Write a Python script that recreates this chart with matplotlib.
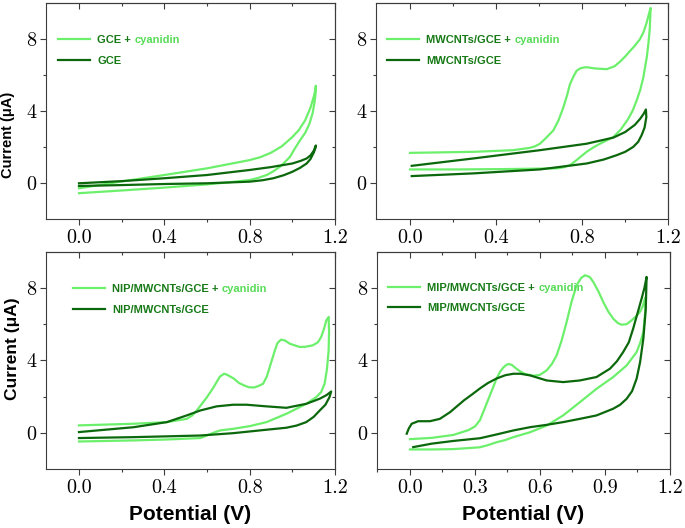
import matplotlib
matplotlib.use("Agg")
import matplotlib.pyplot as plt
from matplotlib.ticker import FixedLocator

# ---- data (potential in V, current in uA) ----
electrodes = ["GCE", "MWCNTs/GCE", "NIP/MWCNTs/GCE", "MIP/MWCNTs/GCE"]
analyte = "cyanidin"

gce_cy_E = [0.0, 0.2, 0.4, 0.6, 0.8, 0.85, 0.9, 0.95, 1.0, 1.03, 1.06, 1.085, 1.1, 1.108, 1.11,
            1.109, 1.104, 1.095, 1.08, 1.06, 1.036, 1.01, 0.989, 0.965, 0.942, 0.91, 0.88,
            0.84, 0.8, 0.7, 0.6, 0.4, 0.2, 0.0]
gce_cy_I = [-0.28, 0.1, 0.46, 0.83, 1.29, 1.45, 1.7, 2.05, 2.57, 2.95, 3.5, 4.2, 4.8, 5.2, 5.42,
            5.0, 4.5, 3.9, 3.3, 2.8, 2.39, 1.9, 1.47, 1.18, 0.92, 0.66, 0.46,
            0.3, 0.18, 0.05, -0.06, -0.24, -0.4, -0.55]
gce_E = [0.0, 0.2, 0.4, 0.6, 0.8, 0.9, 1.0, 1.04, 1.067, 1.085, 1.1, 1.11,
         1.108, 1.1, 1.085, 1.067, 1.035, 1.0, 0.96, 0.911, 0.86, 0.8, 0.6, 0.4, 0.2, 0.0]
gce_I = [0.0, 0.12, 0.28, 0.46, 0.74, 0.9, 1.1, 1.25, 1.38, 1.55, 1.8, 2.1,
         1.95, 1.7, 1.35, 1.1, 0.85, 0.64, 0.45, 0.28, 0.17, 0.09, 0.0, -0.04, -0.1, -0.15]

mw_cy_E = [0.0, 0.3, 0.48, 0.557, 0.58, 0.604, 0.63, 0.666, 0.69, 0.712, 0.73, 0.743, 0.76,
           0.774, 0.79, 0.805, 0.82, 0.86, 0.914, 0.95, 0.975, 1.0, 1.022, 1.045, 1.068, 1.085,
           1.1, 1.112, 1.118,
           1.114, 1.108, 1.1, 1.084, 1.07, 1.053, 1.035, 1.014, 0.98, 0.945, 0.9, 0.883, 0.85,
           0.821, 0.795, 0.774, 0.743, 0.71, 0.681, 0.449, 0.217, 0.0]
mw_cy_I = [1.69, 1.75, 1.84, 1.97, 2.05, 2.2, 2.5, 2.94, 3.5, 4.2, 4.9, 5.5, 5.95,
           6.25, 6.38, 6.43, 6.45, 6.38, 6.34, 6.5, 6.75, 7.05, 7.35, 7.65, 8.0, 8.4,
           8.95, 9.5, 9.74,
           8.6, 7.8, 7.0, 5.88, 5.2, 4.6, 4.05, 3.58, 3.0, 2.57, 2.3, 2.2, 1.98,
           1.75, 1.5, 1.29, 1.0, 0.88, 0.83, 0.79, 0.77, 0.77]
mw_E = [0.008, 0.294, 0.604, 0.821, 0.945, 1.0, 1.045, 1.069, 1.085, 1.096,
        1.098, 1.09, 1.076, 1.06, 1.037, 1.0, 0.96, 0.9, 0.821, 0.604, 0.294, 0.008]
mw_I = [0.97, 1.38, 1.84, 2.2, 2.54, 2.85, 3.25, 3.58, 3.85, 4.1,
        3.68, 3.1, 2.67, 2.3, 2.02, 1.75, 1.56, 1.32, 1.1, 0.77, 0.55, 0.4]

nip_cy_E = [0.0, 0.257, 0.412, 0.505, 0.53, 0.552, 0.6, 0.63, 0.66, 0.68, 0.695, 0.726, 0.75,
            0.773, 0.795, 0.82, 0.84, 0.863, 0.88, 0.894, 0.918, 0.93, 0.946, 0.965, 0.988,
            1.034, 1.06, 1.096, 1.12, 1.135, 1.15, 1.159, 1.165, 1.17,
            1.172, 1.17, 1.162, 1.151, 1.135, 1.112, 1.065, 1.003, 0.972, 0.879, 0.801, 0.723,
            0.661, 0.63, 0.599, 0.568, 0.412, 0.257, 0.0]
nip_cy_I = [0.41, 0.5, 0.59, 0.77, 0.95, 1.23, 1.97, 2.5, 3.1, 3.26, 3.2, 2.99, 2.75,
            2.62, 2.52, 2.5, 2.58, 2.71, 3.1, 3.63, 4.55, 4.95, 5.14, 5.1, 4.92,
            4.74, 4.75, 4.83, 5.0, 5.29, 5.8, 6.21, 6.3, 6.4,
            5.6, 4.55, 3.5, 2.71, 2.25, 1.97, 1.6, 1.23, 1.05, 0.59, 0.37, 0.22,
            0.13, 0.0, -0.15, -0.29, -0.37, -0.42, -0.48]
nip_E = [0.0, 0.257, 0.412, 0.505, 0.568, 0.645, 0.723, 0.785, 0.879, 0.972, 1.065, 1.128,
         1.16, 1.182,
         1.174, 1.155, 1.128, 1.1, 1.065, 1.02, 0.972, 0.879, 0.723, 0.568, 0.257, 0.0]
nip_I = [0.04, 0.31, 0.59, 0.96, 1.23, 1.46, 1.55, 1.55, 1.46, 1.38, 1.6, 1.88,
         2.08, 2.28,
         1.97, 1.55, 1.23, 0.88, 0.59, 0.4, 0.28, 0.17, -0.02, -0.15, -0.24, -0.29]

mip_cy_E = [0.0, 0.1, 0.2, 0.27, 0.3, 0.323, 0.34, 0.36, 0.38, 0.4, 0.415, 0.43, 0.445, 0.455,
            0.47, 0.49, 0.51, 0.53, 0.57, 0.6, 0.631, 0.655, 0.677, 0.7, 0.723, 0.745, 0.769,
            0.79, 0.808, 0.83, 0.846, 0.87, 0.892, 0.915, 0.938, 0.96, 0.977, 1.0, 1.023,
            1.045, 1.061, 1.075, 1.084, 1.089,
            1.085, 1.077, 1.062, 1.046, 1.0, 0.938, 0.861, 0.784, 0.707, 0.631, 0.554, 0.477,
            0.44, 0.4, 0.36, 0.323, 0.2, 0.1, 0.0]
mip_cy_I = [-0.35, -0.28, -0.12, 0.15, 0.35, 0.7, 1.2, 1.8, 2.4, 3.0, 3.35, 3.6, 3.75, 3.8,
            3.75, 3.55, 3.38, 3.25, 3.15, 3.2, 3.45, 3.8, 4.28, 5.1, 6.12, 7.2, 8.15,
            8.55, 8.7, 8.6, 8.33, 7.8, 7.22, 6.7, 6.3, 6.05, 5.97, 6.0, 6.21,
            6.45, 6.67, 7.0, 7.41, 7.5,
            6.6, 5.56, 4.95, 4.46, 3.72, 3.08, 2.43, 1.69, 0.96, 0.4, 0.03, -0.24,
            -0.4, -0.52, -0.68, -0.8, -0.9, -0.92, -0.92]
mip_E = [-0.015, -0.005, 0.008, 0.038, 0.092, 0.138, 0.185, 0.25, 0.29, 0.323, 0.36, 0.4,
         0.44, 0.477, 0.51, 0.554, 0.631, 0.707, 0.784, 0.861, 0.923, 0.955, 0.984, 1.01,
         1.03, 1.05, 1.069, 1.082, 1.092,
         1.088, 1.077, 1.062, 1.046, 1.025, 1.0, 0.97, 0.938, 0.861, 0.784, 0.707, 0.631,
         0.554, 0.477, 0.4, 0.323, 0.2, 0.1, 0.015]
mip_I = [-0.05, 0.25, 0.5, 0.64, 0.64, 0.77, 1.14, 1.8, 2.15, 2.45, 2.75, 3.0,
         3.18, 3.26, 3.26, 3.17, 2.89, 2.8, 2.89, 3.08, 3.54, 3.95, 4.46, 5.0,
         5.75, 6.6, 7.41, 8.0, 8.61,
         6.8, 5.2, 3.9, 2.99, 2.3, 1.88, 1.55, 1.33, 0.96, 0.77, 0.59, 0.44,
         0.31, 0.13, -0.09, -0.3, -0.45, -0.6, -0.79]

xticks_a = [0.0, 0.4, 0.8, 1.2]
xlabels_a = ["0.0", "0.4", "0.8", "1.2"]
xminor_a = [0.2, 0.6, 1.0]
xticks_b = [0.0, 0.3, 0.6, 0.9, 1.2]
xlabels_b = ["0.0", "0.3", "0.6", "0.9", "1.2"]
xminor_b = [-0.15, 0.15, 0.45, 0.75, 1.05]
yticks = [0, 4, 8]
ylabels = ["0", "4", "8"]
yminor = [2, 6]

LIGHT = "#6CF06C"
DARK = "#0C680C"
LIGHT_TXT = "#58DC58"
DARK_TXT = "#177A17"
SPINE = "#3c3c3c"
SANS = "Liberation Sans"
SERIF = "cmr10"

fig = plt.figure(figsize=(6.85, 5.28), dpi=100)

panels = [
    # rect, xlim left, xticks, labels, minor, legend anchor, curves
    ([0.0667, 0.5847, 0.4224, 0.409], -0.156, xticks_a, xlabels_a, xminor_a, (0.043, 0.852),
     (gce_cy_E, gce_cy_I), (gce_E, gce_I)),
    ([0.5489, 0.5847, 0.4267, 0.409], -0.158, xticks_a, xlabels_a, xminor_a, (0.038, 0.852),
     (mw_cy_E, mw_cy_I), (mw_E, mw_I)),
    ([0.0667, 0.1117, 0.4224, 0.4116], -0.156, xticks_a, xlabels_a, xminor_a, (0.094, 0.85),
     (nip_cy_E, nip_cy_I), (nip_E, nip_I)),
    ([0.5504, 0.1117, 0.4277, 0.4116], -0.152, xticks_b, xlabels_b, xminor_b, (0.038, 0.857),
     (mip_cy_E, mip_cy_I), (mip_E, mip_I)),
]

axes = []
for i, (rect, x0, xt, xl, xm, anchor, cy, blank) in enumerate(panels):
    ax = fig.add_axes(rect)
    axes.append(ax)
    ln_cy, = ax.plot(cy[0], cy[1], color=LIGHT, lw=1.6, solid_joinstyle="round")
    ln_bl, = ax.plot(blank[0], blank[1], color=DARK, lw=1.6, solid_joinstyle="round")
    ax.set_xlim(x0, 1.2)
    ax.set_ylim(-2, 10)

    ax.set_xticks(xt, xl)
    ax.xaxis.set_minor_locator(FixedLocator(xm))
    ax.set_yticks(yticks, ylabels)
    ax.yaxis.set_minor_locator(FixedLocator(yminor))
    ax.tick_params(which="both", direction="out", width=0.8, color=SPINE,
                   labelsize=14.5, labelfontfamily=SERIF)
    ax.tick_params(which="major", length=4.2)
    ax.tick_params(which="minor", length=2.4)
    ax.tick_params(axis="x", pad=3)
    ax.tick_params(axis="y", pad=2.5)
    for sp in ax.spines.values():
        sp.set_color(SPINE)
        sp.set_linewidth(0.8)

    # mirrored inward ticks on top and right
    top = ax.secondary_xaxis("top")
    top.set_xticks(xt)
    top.xaxis.set_minor_locator(FixedLocator(xm))
    top.tick_params(which="both", direction="in", labeltop=False, width=0.8, color=SPINE)
    top.tick_params(which="major", length=4.2)
    top.tick_params(which="minor", length=2.4)
    top.spines["top"].set_color(SPINE)
    top.spines["top"].set_linewidth(0.8)
    right = ax.secondary_yaxis("right")
    right.set_yticks(yticks)
    right.yaxis.set_minor_locator(FixedLocator(yminor))
    right.tick_params(which="both", direction="in", labelright=False, width=0.8, color=SPINE)
    right.tick_params(which="major", length=4.2)
    right.tick_params(which="minor", length=2.4)
    right.spines["right"].set_color(SPINE)
    right.spines["right"].set_linewidth(0.8)

    leg = ax.legend([ln_cy, ln_bl], [electrodes[i] + " +", electrodes[i]],
                    loc="upper left", bbox_to_anchor=anchor, frameon=False,
                    borderaxespad=0, borderpad=0, handlelength=2.9, handletextpad=0.62,
                    labelspacing=0.95,
                    prop={"family": SANS, "weight": "bold", "size": 8})
    for t in leg.get_texts():
        t.set_color(DARK_TXT)
    ax.annotate(analyte, xy=(1, 0), xycoords=leg.get_texts()[0],
                xytext=(2.3, 0), textcoords="offset points",
                ha="left", va="bottom", color=LIGHT_TXT, fontsize=8,
                fontweight="bold", family=SANS, zorder=6)

lab = {"family": SANS, "weight": "bold"}
axes[0].set_ylabel("Current (μA)", fontsize=10.5, **lab)
axes[0].yaxis.set_label_coords(-0.106, 0.39)
axes[2].set_ylabel("Current (μA)", fontsize=12.5, **lab)
axes[2].yaxis.set_label_coords(-0.089, 0.555)
for ax in axes[2:]:
    ax.set_xlabel("Potential (V)", fontsize=15, **lab)
    ax.xaxis.set_label_coords(0.5, -0.165)

fig.canvas.draw()
fig.savefig("out.png", dpi=100)
